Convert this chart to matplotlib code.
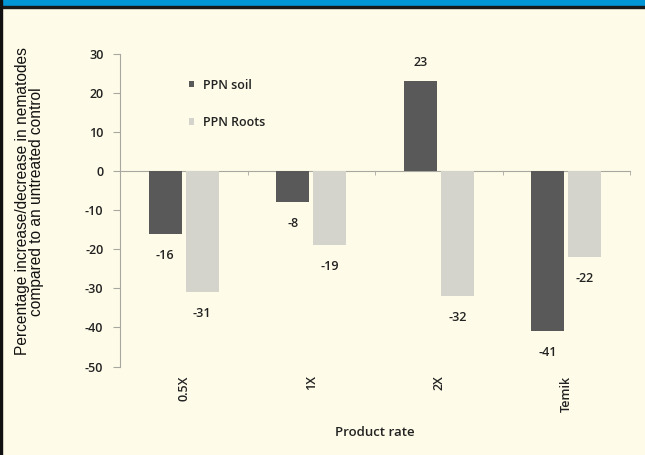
import matplotlib
matplotlib.use("Agg")
import matplotlib.pyplot as plt
import numpy as np

categories = ["0.5X", "1X", "2X", "Temik"]
soil = [-16, -8, 23, -41]
roots = [-31, -19, -32, -22]
series_names = ["PPN soil", "PPN Roots"]
yticks = [30, 20, 10, 0, -10, -20, -30, -40, -50]

W, H = 645, 455
bg = "#fefbe8"
fig = plt.figure(figsize=(W / 100, H / 100), dpi=100, facecolor=bg)

# header band and border
fig.patches.append(plt.Rectangle((0, 1 - 6 / H), 1, 6 / H, transform=fig.transFigure,
                                 color="#0396d6", zorder=0))
fig.patches.append(plt.Rectangle((0, 1 - 8 / H), 1, 2 / H, transform=fig.transFigure,
                                 color="#1a1a1a", zorder=0))
fig.patches.append(plt.Rectangle((0, 0), 1.5 / W, 1, transform=fig.transFigure,
                                 color="#111111", zorder=0))

y0, y1 = -50, 30
px_top, px_bot = 54, 366.5
ax_left, ax_right = 120, 630
ax = fig.add_axes([ax_left / W, 1 - px_bot / H, (ax_right - ax_left) / W, (px_bot - px_top) / H])
ax.set_facecolor(bg)
ax.set_ylim(y0, y1)
ax.set_xlim(-0.5, len(categories) - 0.5)

x = np.arange(len(categories))
bw = 0.26
gap = 0.015
c_soil = "#595959"
c_roots = "#d4d4cc"
b1 = ax.bar(x - gap - bw / 2, soil, bw, color=c_soil, label=series_names[0], zorder=3)
b2 = ax.bar(x + gap + bw / 2, roots, bw, color=c_roots, label=series_names[1], zorder=3)

lab_font = dict(family="Open Sans", fontsize=9, fontweight="semibold", color="#222222")
for xi, v in zip(x - gap - bw / 2, soil):
    off = 4.8 if v > 0 else -5.5
    ax.text(xi, v + off, f"{v}", ha="center", va="center", **lab_font)
for xi, v in zip(x + gap + bw / 2, roots):
    off = 4.8 if v > 0 else -5.5
    ax.text(xi, v + off, f"{v}", ha="center", va="center", **lab_font)

for s in ["top", "right"]:
    ax.spines[s].set_visible(False)
ax.spines["bottom"].set_position(("data", 0))
ax.spines["bottom"].set_color("#a8a8a0")
ax.spines["left"].set_color("#a8a8a0")
ax.spines["bottom"].set_zorder(2)

ax.set_yticks(yticks)
ax.set_yticklabels([str(t) for t in yticks], **lab_font)
ax.tick_params(axis="y", length=5, color="#a8a8a0", pad=7)

# x ticks at category boundaries (minor), labels at centers placed below
ax.set_xticks(x)
ax.set_xticklabels([])
ax.tick_params(axis="x", which="major", length=0)
ax.set_xticks(np.arange(-0.5, len(categories) - 0.4, 1), minor=True)
ax.tick_params(axis="x", which="minor", length=3, color="#a8a8a0", direction="out")
for xi, c in zip(x, categories):
    ax.text(xi, -52.3, c, rotation=90, ha="center", va="top", **lab_font)

ax.text(0.5, -0.21, "Product rate", transform=ax.transAxes, ha="center", va="center",
        family="Open Sans", fontsize=9.5, fontweight="semibold", color="#222222")

fig.text(29.5 / W, 1 - 201.5 / H, "Percentage increase/decrease in nematodes\ncompared to an untreated control",
         rotation=90, ha="center", va="center", family="Liberation Sans", fontsize=11.2,
         color="#111111", linespacing=0.98)

leg = ax.legend(loc="upper left", bbox_to_anchor=(0.114, 0.957), frameon=False,
                handlelength=0.4, handleheight=0.4, handletextpad=0.7, labelspacing=1.95,
                prop=dict(family="Open Sans", size=9, weight="semibold"))
for t in leg.get_texts():
    t.set_color("#222222")

fig.savefig("out.png", dpi=100, facecolor=bg)
